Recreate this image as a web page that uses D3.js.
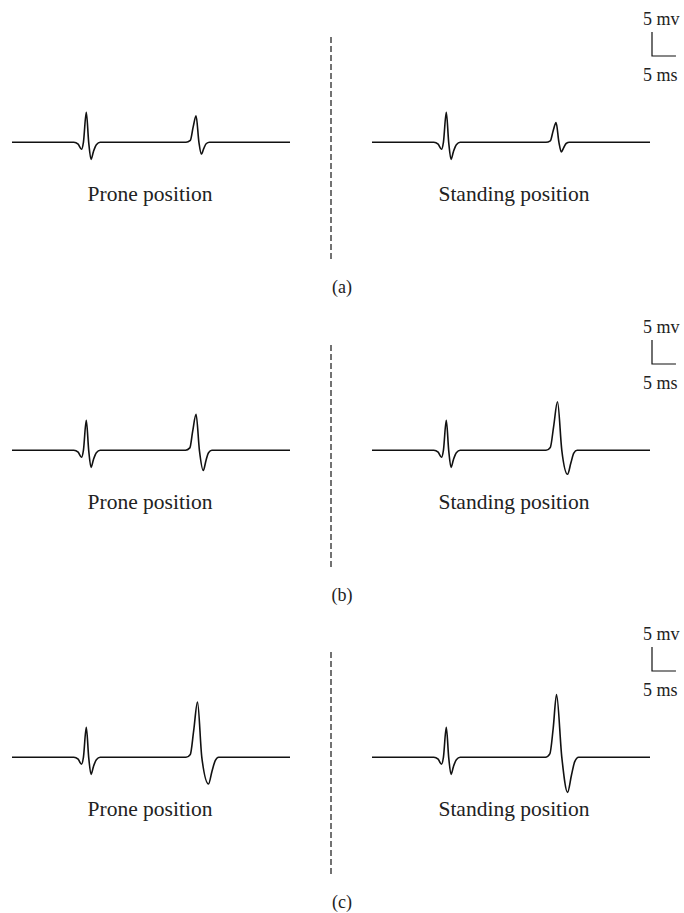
<!DOCTYPE html>
<html>
<head>
<meta charset="utf-8">
<script src="https://cdn.jsdelivr.net/npm/d3@7"></script>
<style>
    body {margin: 0; background: #fff;}
    text {font-family: "Liberation Serif", "DejaVu Serif", serif; fill: #222;}
</style>
</head>
<body>
<div id="chart-container"></div>
<script>

// time in ms, voltage in mV
const firstSpike=[[0, 0], [12.9, 0], [13.8, -0.4], [14.5, -1.45], [14.9, 0], [15.5, 6.25], [16.0, 0], [16.5, -3.55], [17.0, -1.9], [17.6, -0.5], [18.4, 0]];

const proneA=[[36.3, 0], [37.2, 0.4], [37.8, 3.2], [38.4, 5.5], [39.0, 0], [39.5, -2.45], [40.0, -1.3], [40.5, -0.3], [41.2, 0], [58, 0]];
const standingA=[[36.3, 0], [37.2, 0.3], [37.8, 2.4], [38.4, 4.1], [39.0, 0], [39.5, -2.0], [40.0, -1.1], [40.5, -0.25], [41.2, 0], [58, 0]];
const proneB=[[36.2, 0], [37.1, 0.5], [37.7, 4.0], [38.4, 7.5], [39.1, 0], [39.9, -4.2], [40.5, -2.0], [41.0, -0.5], [41.7, 0], [58, 0]];
const standingB=[[36.3, 0], [37.2, 0.6], [37.9, 5.0], [38.7, 10.1], [39.6, 0], [40.8, -5.0], [41.5, -2.6], [42.1, -0.6], [42.8, 0], [58, 0]];
const proneC=[[36.3, 0], [37.2, 0.6], [37.9, 5.5], [38.7, 11.5], [39.6, 0], [41.0, -5.55], [41.7, -3.0], [42.4, -0.7], [43.1, 0], [58, 0]];
const standingC=[[36.2, 0], [37.1, 0.7], [37.8, 6.0], [38.5, 13.05], [39.6, 0], [40.8, -7.3], [41.6, -3.8], [42.3, -0.9], [43.1, 0], [58, 0]];

const panelNames=["(a)", "(b)", "(c)"];
const positionNames=["Prone position", "Standing position"];
const traces=[[proneA, standingA], [proneB, standingB], [proneC, standingC]];
const scaleBar={mv: 5, ms: 5};


const svg=d3.select("#chart-container").append("svg")
    .attr("width", 684)
    .attr("height", 913);

const panelTop=[0, 308, 615];
const xLeft=d3.scaleLinear().domain([0, 58]).range([12, 290]);
const xRight=d3.scaleLinear().domain([0, 58]).range([372, 650]);

const line=(x, y) => d3.line()
    .x(d => x(d[0]))
    .y(d => y(d[1]))
    .curve(d3.curveMonotoneX);

traces.forEach((pair, i) => {
    const top=panelTop[i];
    const g=svg.append("g");
    const y=d3.scaleLinear().domain([0, 5]).range([top+142.3, top+142.3-24]);

    [xLeft, xRight].forEach((x, j) => {
        g.append("path")
            .datum(firstSpike.concat(pair[j]))
            .attr("d", line(x, y))
            .style("fill", "none")
            .style("stroke", "#111")
            .style("stroke-width", "1.6");

        g.append("text")
            .attr("x", j===0? 150:514)
            .attr("y", top+201)
            .attr("text-anchor", "middle")
            .style("font-size", "21.5px")
            .text(positionNames[j]);
    });

    g.append("line")
        .attr("x1", 331).attr("x2", 331)
        .attr("y1", top+37).attr("y2", top+259)
        .style("stroke", "#444")
        .style("stroke-width", "1.5")
        .style("stroke-dasharray", "6,3");

    g.append("text")
        .attr("x", 342)
        .attr("y", top+293)
        .attr("text-anchor", "middle")
        .style("font-size", "18px")
        .text(panelNames[i]);

    // scale bar
    const barH=y(0)-y(scaleBar.mv);
    const barW=xLeft(scaleBar.ms)-xLeft(0);
    const bx=652, by=top+56;
    g.append("path")
        .attr("d", `M${bx},${by-barH}V${by}H${bx+barW}`)
        .style("fill", "none")
        .style("stroke", "#111")
        .style("stroke-width", "1.2");

    g.append("text")
        .attr("x", 643)
        .attr("y", top+25)
        .style("font-size", "18px")
        .text(scaleBar.mv+" mv");

    g.append("text")
        .attr("x", 643)
        .attr("y", top+81)
        .style("font-size", "18px")
        .text(scaleBar.ms+" ms");
});

</script>
</body>
</html>
